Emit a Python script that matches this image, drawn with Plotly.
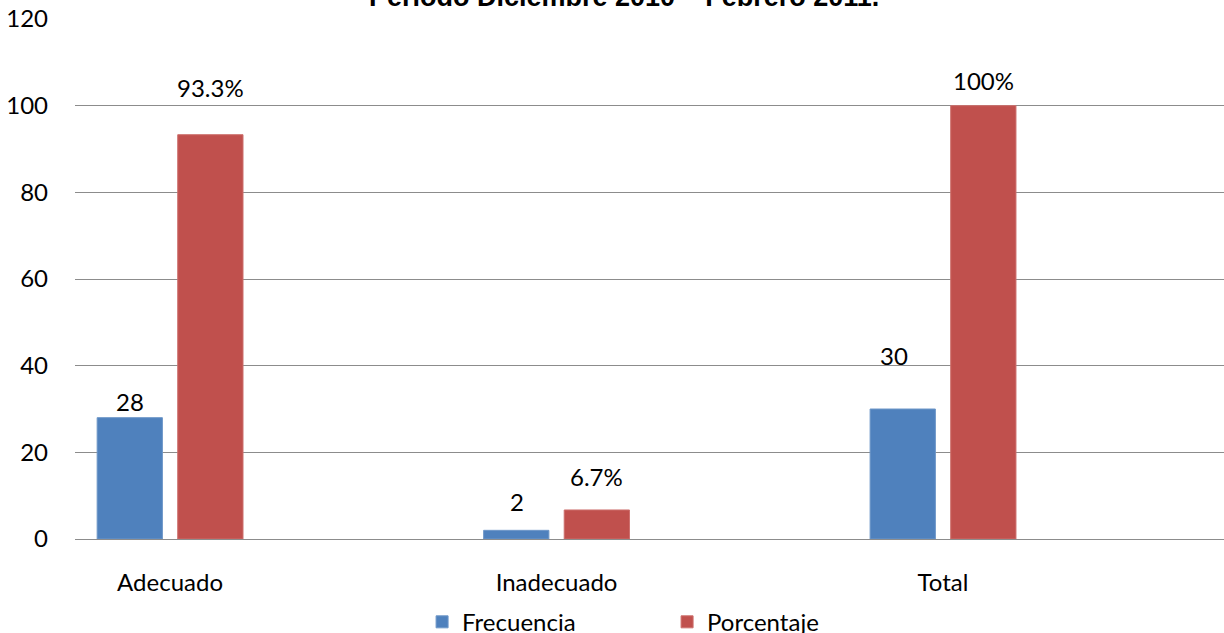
import plotly.graph_objects as go

# categories and values
categorias = ['Adecuado', 'Inadecuado', 'Total']
frecuencia = [28, 2, 30]
porcentaje = [93.3, 6.7, 100]
texto_frecuencia = ['28', '2', '30']
texto_porcentaje = ['93.3%', '6.7%', '100%']
ticks_y = [0, 20, 40, 60, 80, 100, 120]

# label placement (pixels above the bar top), the labels were moved by hand in the original
despl_frecuencia = [16, 29, 54]
despl_x_frecuencia = [0, 0, -9]
despl_porcentaje = [47, 33, 25]

fig = go.Figure()

fig.add_trace(go.Bar(x=categorias, y=frecuencia, name='Frecuencia',
                     marker=dict(color='#4F81BD', line=dict(color='#6E97C8', width=1))))
fig.add_trace(go.Bar(x=categorias, y=porcentaje, name='Porcentaje',
                     marker=dict(color='#C0504D', line=dict(color='#CD6F6C', width=1))))

# data labels
for i, cat in enumerate(categorias):
    fig.add_annotation(x=cat, y=frecuencia[i], text=texto_frecuencia[i], showarrow=False,
                       xshift=-40 + despl_x_frecuencia[i], yshift=despl_frecuencia[i],
                       yanchor='middle', font=dict(size=24, color='black'))
    fig.add_annotation(x=cat, y=porcentaje[i], text=texto_porcentaje[i], showarrow=False,
                       xshift=40, yshift=despl_porcentaje[i],
                       yanchor='middle', font=dict(size=24, color='black'))

# title is cut off at the top of the picture
fig.add_annotation(text='<b>Periodo Diciembre 2010 – Febrero 2011.</b>',
                   xref='paper', yref='paper', x=0.478, y=1.0096,
                   xanchor='center', yanchor='bottom', showarrow=False,
                   font=dict(family='Liberation Sans', size=27, color='black'))

fig.update_layout(
    width=1224, height=633,
    margin=dict(l=75, r=0, t=19, b=94, autoexpand=False),
    paper_bgcolor='white', plot_bgcolor='white',
    barmode='group', bargap=0.583, bargroupgap=0.19,
    font=dict(family='Lato', size=24, color='black'),
    showlegend=True,
    legend=dict(orientation='h', xref='container', yref='container',
                x=0.545, y=0.017, xanchor='center', yanchor='middle',
                font=dict(size=24), itemwidth=30, entrywidth=200),
)
fig.update_xaxes(range=[-0.246, 2.727], showgrid=False, showline=False,
                 ticks='', ticklabelstandoff=27, automargin=False,
                 tickfont=dict(size=24))
fig.update_yaxes(range=[0, 120], tickvals=ticks_y, showgrid=True,
                 gridcolor='#8C8C8C', gridwidth=1, zeroline=True,
                 zerolinecolor='#8C8C8C', zerolinewidth=1,
                 ticks='', ticklabelstandoff=26, automargin=False,
                 tickfont=dict(size=24))

# drop the page's default body margin so the figure fills the window
fig.write_html('out.html', config={'displayModeBar': False},
               post_script="document.body.style.margin='0';")
